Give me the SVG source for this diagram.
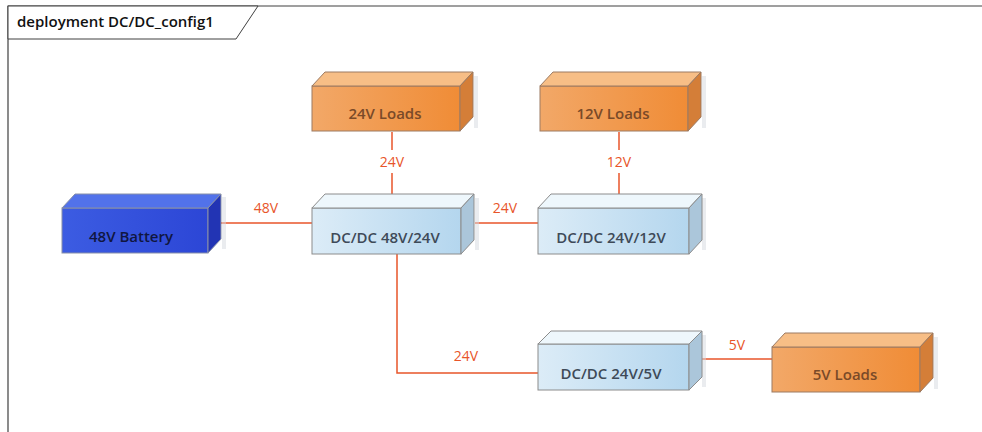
<svg xmlns="http://www.w3.org/2000/svg" width="982" height="432" viewBox="0 0 982 432">
  <defs>
    <linearGradient id="gLoad" x1="0" y1="0" x2="1" y2="0">
      <stop offset="0" stop-color="#f2a868"/>
      <stop offset="1" stop-color="#f08c36"/>
    </linearGradient>
    <linearGradient id="gConv" x1="0" y1="0" x2="1" y2="0">
      <stop offset="0" stop-color="#dcecf7"/>
      <stop offset="1" stop-color="#b4d6ee"/>
    </linearGradient>
    <linearGradient id="gBatt" x1="0" y1="0" x2="1" y2="0">
      <stop offset="0" stop-color="#3c5ce2"/>
      <stop offset="1" stop-color="#2c46d6"/>
    </linearGradient>
  </defs>
  <style>
    .frame { fill: none; stroke: #404040; stroke-width: 1.2; }
    .tab { fill: #ffffff; stroke: #404040; stroke-width: 1; }
    .title { font-family: "Open Sans", "Liberation Sans", sans-serif; font-size: 15px; font-weight: 600; fill: #111111; }
    .shadow { fill: #d6dae0; opacity: 0.5; }
    .load .front { fill: url(#gLoad); stroke: #9c7a62; stroke-width: 1; }
    .load .top { fill: #f7be86; stroke: #9c7a62; stroke-width: 1; }
    .load .side { fill: #d47e38; stroke: #9c7a62; stroke-width: 1; }
    .load text { fill: #7a4a28; }
    .conv .front { fill: url(#gConv); stroke: #8c8c8c; stroke-width: 1; }
    .conv .top { fill: #eef7fc; stroke: #8c8c8c; stroke-width: 1; }
    .conv .side { fill: #abc6da; stroke: #8c8c8c; stroke-width: 1; }
    .conv text { fill: #3e4a58; }
    .batt .front { fill: url(#gBatt); stroke: #8890a8; stroke-width: 1; }
    .batt .top { fill: #5272ea; stroke: #8890a8; stroke-width: 1; }
    .batt .side { fill: #2234b4; stroke: #8890a8; stroke-width: 1; }
    .batt text { fill: #101640; }
    .node text { font-family: "Open Sans", "Liberation Sans", sans-serif; font-size: 15px; font-weight: 600; text-anchor: middle; }
    .wire { fill: none; stroke: #e8552a; stroke-width: 1.5; }
    .wlabel { font-family: "Open Sans", "Liberation Sans", sans-serif; font-size: 14px; fill: #e8552a; text-anchor: middle; }
  </style>

  <rect width="982" height="432" fill="#ffffff"/>

  <!-- diagram frame with name tab -->
  <path class="frame" d="M8,432 V6 H990"/>
  <path class="tab" d="M8,6 H258 L236,39 H8 Z"/>
  <text class="title" x="17" y="27">deployment DC/DC_config1</text>

  <!-- connectors -->
  <g id="connectors">
    <line class="wire" x1="221" y1="223" x2="312" y2="223"/>
    <text class="wlabel" x="266" y="213">48V</text>

    <line class="wire" x1="475" y1="223" x2="538" y2="223"/>
    <text class="wlabel" x="505" y="213">24V</text>

    <line class="wire" x1="392" y1="132" x2="392" y2="150"/>
    <line class="wire" x1="392" y1="173" x2="392" y2="194"/>
    <text class="wlabel" x="392" y="167">24V</text>

    <line class="wire" x1="619" y1="132" x2="619" y2="150"/>
    <line class="wire" x1="619" y1="173" x2="619" y2="194"/>
    <text class="wlabel" x="619" y="167">12V</text>

    <polyline class="wire" points="397,254 397,373 538,373"/>
    <text class="wlabel" x="466" y="361">24V</text>

    <line class="wire" x1="702" y1="359" x2="772" y2="359"/>
    <text class="wlabel" x="737" y="350">5V</text>
  </g>

  <!-- nodes: front face, top face, right face -->
  <g id="battery48" class="node batt">
    <rect class="shadow" x="222" y="197" width="4" height="52"/>
    <rect class="front" x="62" y="208" width="146" height="45"/>
    <polygon class="top" points="62,208 75,194 221,194 208,208"/>
    <polygon class="side" points="208,208 221,194 221,239 208,253"/>
    <text x="131" y="242">48V Battery</text>
  </g>

  <g id="loads24" class="node load">
    <rect class="shadow" x="474" y="76" width="4" height="52"/>
    <rect class="front" x="312" y="86" width="148" height="45"/>
    <polygon class="top" points="312,86 325,72 473,72 460,86"/>
    <polygon class="side" points="460,86 473,72 473,117 460,131"/>
    <text x="385" y="119">24V Loads</text>
  </g>

  <g id="loads12" class="node load">
    <rect class="shadow" x="702" y="76" width="4" height="52"/>
    <rect class="front" x="540" y="86" width="148" height="45"/>
    <polygon class="top" points="540,86 553,72 701,72 688,86"/>
    <polygon class="side" points="688,86 701,72 701,117 688,131"/>
    <text x="613" y="119">12V Loads</text>
  </g>

  <g id="conv48to24" class="node conv">
    <rect class="shadow" x="475" y="198" width="4" height="52"/>
    <rect class="front" x="312" y="208" width="149" height="46"/>
    <polygon class="top" points="312,208 325,194 474,194 461,208"/>
    <polygon class="side" points="461,208 474,194 474,240 461,254"/>
    <text x="385" y="243">DC/DC 48V/24V</text>
  </g>

  <g id="conv24to12" class="node conv">
    <rect class="shadow" x="702" y="198" width="4" height="52"/>
    <rect class="front" x="538" y="208" width="151" height="46"/>
    <polygon class="top" points="538,208 551,194 702,194 689,208"/>
    <polygon class="side" points="689,208 702,194 702,240 689,254"/>
    <text x="611" y="243">DC/DC 24V/12V</text>
  </g>

  <g id="conv24to5" class="node conv">
    <rect class="shadow" x="702" y="335" width="4" height="52"/>
    <rect class="front" x="538" y="344" width="151" height="46"/>
    <polygon class="top" points="538,344 551,331 702,331 689,344"/>
    <polygon class="side" points="689,344 702,331 702,377 689,390"/>
    <text x="611" y="379">DC/DC 24V/5V</text>
  </g>

  <g id="loads5" class="node load">
    <rect class="shadow" x="934" y="337" width="4" height="52"/>
    <rect class="front" x="772" y="347" width="148" height="45"/>
    <polygon class="top" points="772,347 785,333 933,333 920,347"/>
    <polygon class="side" points="920,347 933,333 933,378 920,392"/>
    <text x="845" y="380">5V Loads</text>
  </g>
</svg>
